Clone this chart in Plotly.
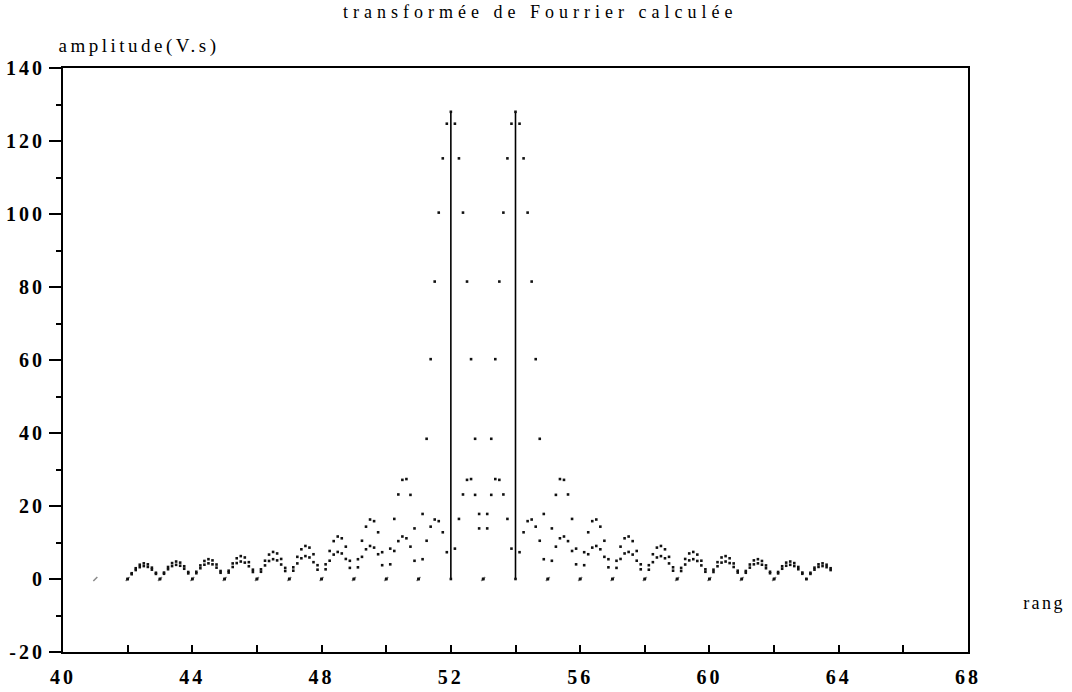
import numpy as np
import plotly.graph_objects as go

# Sampled spectrum grid (rang), step 1/8 from 42 to 63.75
rang = [42 + k * 0.125 for k in range(175)]

# |TF| of the component at rang 52
amp_52 = [
    0, 1.58, 2.95, 3.91, 4.29, 4.02, 3.11, 1.71,
    0, 1.76, 3.29, 4.36, 4.79, 4.49, 3.49, 1.92,
    0, 1.98, 3.72, 4.94, 5.43, 5.10, 3.97, 2.19,
    0, 2.27, 4.27, 5.68, 6.27, 5.90, 4.61, 2.55,
    0, 2.65, 5.01, 6.69, 7.41, 7.00, 5.49, 3.04,
    0, 3.20, 6.07, 8.14, 9.05, 8.60, 6.78, 3.78,
    0, 4.02, 7.68, 10.38, 11.64, 11.15, 8.86, 4.99,
    0, 5.42, 10.48, 14.34, 16.30, 15.85, 12.80, 7.34,
    0, 8.32, 16.46, 23.16, 27.16, 27.38, 23.05, 13.86,
    0, 17.82, 38.41, 60.23, 81.49, 100.38, 115.24, 124.74,
    128, 124.74, 115.24, 100.38, 81.49, 60.23, 38.41, 17.82,
    0, 13.86, 23.05, 27.38, 27.16, 23.16, 16.46, 8.32,
    0, 7.34, 12.80, 15.85, 16.30, 14.34, 10.48, 5.42,
    0, 4.99, 8.86, 11.15, 11.64, 10.38, 7.68, 4.02,
    0, 3.78, 6.78, 8.60, 9.05, 8.14, 6.07, 3.20,
    0, 3.04, 5.49, 7.00, 7.41, 6.69, 5.01, 2.65,
    0, 2.55, 4.61, 5.90, 6.27, 5.68, 4.27, 2.27,
    0, 2.19, 3.97, 5.10, 5.43, 4.94, 3.72, 1.98,
    0, 1.92, 3.49, 4.49, 4.79, 4.36, 3.29, 1.76,
    0, 1.71, 3.11, 4.02, 4.29, 3.91, 2.95, 1.58,
    0, 1.54, 2.81, 3.63, 3.88, 3.54, 2.68, 1.43,
    0, 1.40, 2.56, 3.31, 3.54, 3.24, 2.45,
]

# |TF| of the component at rang 54
amp_54 = [
    0, 1.31, 2.45, 3.24, 3.54, 3.31, 2.56, 1.40,
    0, 1.43, 2.68, 3.54, 3.88, 3.63, 2.81, 1.54,
    0, 1.58, 2.95, 3.91, 4.29, 4.02, 3.11, 1.71,
    0, 1.76, 3.29, 4.36, 4.79, 4.49, 3.49, 1.92,
    0, 1.98, 3.72, 4.94, 5.43, 5.10, 3.97, 2.19,
    0, 2.27, 4.27, 5.68, 6.27, 5.90, 4.61, 2.55,
    0, 2.65, 5.01, 6.69, 7.41, 7.00, 5.49, 3.04,
    0, 3.20, 6.07, 8.14, 9.05, 8.60, 6.78, 3.78,
    0, 4.02, 7.68, 10.38, 11.64, 11.15, 8.86, 4.99,
    0, 5.42, 10.48, 14.34, 16.30, 15.85, 12.80, 7.34,
    0, 8.32, 16.46, 23.16, 27.16, 27.38, 23.05, 13.86,
    0, 17.82, 38.41, 60.23, 81.49, 100.38, 115.24, 124.74,
    128, 124.74, 115.24, 100.38, 81.49, 60.23, 38.41, 17.82,
    0, 13.86, 23.05, 27.38, 27.16, 23.16, 16.46, 8.32,
    0, 7.34, 12.80, 15.85, 16.30, 14.34, 10.48, 5.42,
    0, 4.99, 8.86, 11.15, 11.64, 10.38, 7.68, 4.02,
    0, 3.78, 6.78, 8.60, 9.05, 8.14, 6.07, 3.20,
    0, 3.04, 5.49, 7.00, 7.41, 6.69, 5.01, 2.65,
    0, 2.55, 4.61, 5.90, 6.27, 5.68, 4.27, 2.27,
    0, 2.19, 3.97, 5.10, 5.43, 4.94, 3.72, 1.98,
    0, 1.92, 3.49, 4.49, 4.79, 4.36, 3.29, 1.76,
    0, 1.71, 3.11, 4.02, 4.29, 3.91, 2.95,
]

# Theoretical spectral lines (integer ranks)
line_rang = list(range(41, 63))
line_amp = [0] * 11 + [128, 0, 128] + [0] * 8

y_ticks = [-20, 0, 20, 40, 60, 80, 100, 120, 140]
x_ticks = [40, 44, 48, 52, 56, 60, 64, 68]

SERIF = "Liberation Serif, Times New Roman, serif"

fig = go.Figure()

zx = [r for r, a in zip(line_rang, line_amp) if a == 0]
zy = [a for a in line_amp if a == 0]
fig.add_trace(go.Scatter(
    x=zx, y=zy, mode="markers",
    marker=dict(symbol="line-ne", size=4, line=dict(width=1.5, color="#8a8a8a")),
    hoverinfo="skip", showlegend=False))

sx, sy = [], []
for r, a in zip(line_rang, line_amp):
    if a != 0:
        sx += [r, r, None]
        sy += [0, a, None]
fig.add_trace(go.Scatter(x=sx, y=sy, mode="lines",
                         line=dict(color="black", width=1.6),
                         hoverinfo="skip", showlegend=False))

for amp in (amp_52, amp_54):
    fig.add_trace(go.Scatter(
        x=rang, y=amp, mode="markers",
        marker=dict(symbol="square", size=2.6, color="#111111",
                    line=dict(width=0)),
        showlegend=False))

fig.update_layout(
    width=1072, height=692,
    margin=dict(l=63, r=104, t=68, b=40),
    paper_bgcolor="white", plot_bgcolor="white",
    font=dict(family=SERIF, color="black"),
    showlegend=False,
)

fig.update_xaxes(
    range=[40, 68], tickvals=x_ticks, ticktext=[str(v) for v in x_ticks],
    automargin=False,
    showgrid=False, zeroline=False,
    showline=True, linecolor="black", linewidth=2, mirror=True,
    ticks="inside", ticklen=7, tickwidth=1.5, tickcolor="black",
    ticklabelstandoff=6,
    minor=dict(tickvals=[42, 46, 50, 54, 58, 62, 66], ticks="inside",
               ticklen=7, tickwidth=1.5, tickcolor="black"),
    tickfont=dict(family=SERIF, size=20, color="black", weight="bold"),
)
fig.update_yaxes(
    range=[-20, 140], tickvals=y_ticks, ticktext=[str(v) for v in y_ticks],
    automargin=False,
    showgrid=False, zeroline=False,
    showline=True, linecolor="black", linewidth=2, mirror=True,
    ticks="outside", ticklen=12, tickwidth=1.5, tickcolor="black",
    minor=dict(tickvals=[-10, 10, 30, 50, 70, 90, 110, 130], ticks="outside",
               ticklen=5, tickwidth=1.5, tickcolor="black"),
    tickfont=dict(family=SERIF, size=20, color="black", weight="bold"),
)

# letter spacings (px) for the three labels
LS_TITLE, LS_YLAB, LS_XLAB = 5.0, 3.5, 2.4

fig.add_annotation(text="transformée de Fourrier calculée", xref="paper", yref="paper",
                   x=0, xshift=537.5 - 63 + LS_TITLE / 2, y=1, yshift=56,
                   xanchor="center", yanchor="middle",
                   showarrow=False, font=dict(family=SERIF, size=18, color="black"))
fig.add_annotation(text="amplitude(V.s)", xref="paper", yref="paper",
                   x=0, xshift=137.5 - 63 + LS_YLAB / 2, y=1, yshift=22,
                   xanchor="center", yanchor="middle",
                   showarrow=False, font=dict(family=SERIF, size=19, color="black"))
fig.add_annotation(text="rang", xref="paper", yref="y",
                   x=1, xshift=1042.5 - 968 + LS_XLAB / 2, y=-6.5,
                   xanchor="center", yanchor="middle",
                   showarrow=False, font=dict(family=SERIF, size=18, color="black"))

post = """
var gd = document.getElementById('{plot_id}');
function spaceText(){
  gd.querySelectorAll('.xtick text, .ytick text').forEach(function(t){ t.style.letterSpacing='3px'; });
  var ann = gd.querySelectorAll('.annotation-text');
  var sp = ['%spx', '%spx', '%spx'];
  ann.forEach(function(t, i){ t.style.letterSpacing = sp[i] || '0px'; });
}
spaceText();
gd.on('plotly_afterplot', spaceText);
""" % (LS_TITLE, LS_YLAB, LS_XLAB)

fig.write_html("out.html", post_script=post)
